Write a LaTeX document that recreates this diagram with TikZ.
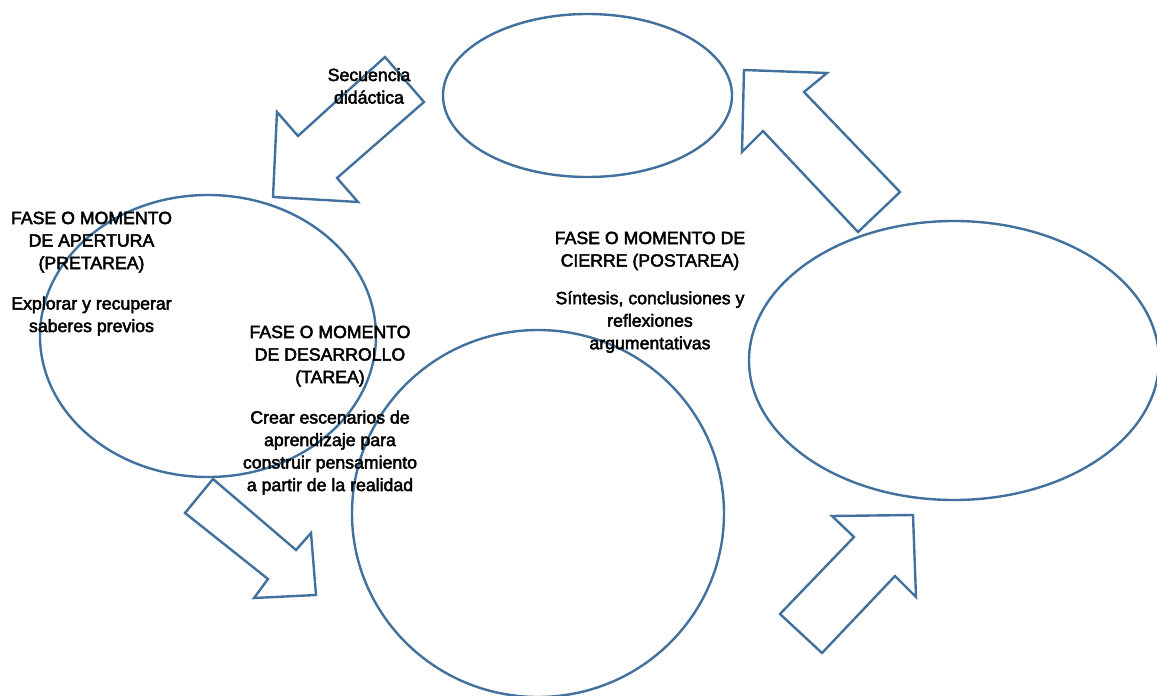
\documentclass[tikz,border=0pt]{standalone}
\usepackage{fontspec}
\setmainfont{Liberation Sans}
\usetikzlibrary{shapes.geometric}
\definecolor{edgeblue}{RGB}{65,113,156}
\newcommand\heavytext[1]{\special{pdf:literal direct 2 Tr 0.45 w}#1\special{pdf:literal direct 0 Tr}}
\tikzset{
  phase/.style={ellipse, draw=edgeblue, line width=2.4pt, inner sep=0pt, outer sep=0pt},
  blockarrow/.style={draw=edgeblue, line width=2.4pt, line join=miter, fill=white},
  lbl/.style={font=\fontsize{17.7}{22.5}\selectfont, align=center, inner sep=0pt, anchor=north, text=black}
}
\begin{document}
\begin{tikzpicture}[x=1pt,y=-1pt]
\useasboundingbox (0,0) rectangle (1157,696);
\fill[white] (0,0) rectangle (1157,696);
% ellipses
\node[phase, minimum width=289pt, minimum height=163pt] (top) at (587.5,95.5) {};
\node[phase, minimum width=336pt, minimum height=282pt] (apertura) at (208,336) {};
\node[phase, minimum width=372pt, minimum height=367pt] (desarrollo) at (538,513.5) {};
\node[phase, minimum width=410pt, minimum height=279pt] (cierre) at (954,360.5) {};
% block arrows
\draw[blockarrow] (385,57) -- (424,102) -- (337,178) -- (358,202) -- (273,197) -- (277,112) -- (298,136) -- cycle;
\draw[blockarrow] (744,70) -- (827,73) -- (804,92) -- (900,192) -- (858,232) -- (763,131) -- (742,152) -- cycle;
\draw[blockarrow] (213,479) -- (185,513) -- (268,579) -- (254,598) -- (316,595) -- (311,533) -- (296,550) -- cycle;
\draw[blockarrow] (913,515) -- (832,516) -- (854,537) -- (780,614) -- (822,653) -- (895,576) -- (916,597) -- cycle;
% texts
\node[lbl] (seq) at (369,68) {\heavytext{Secuencia\\did\'actica}};
\node[lbl] (apT) at (91.5,211.5) {\heavytext{FASE O MOMENTO\\DE APERTURA\\(PRETAREA)}};
\node[lbl] (apD) at (91.5,296.5) {\heavytext{Explorar y recuperar\\saberes previos}};
\node[lbl] (deT) at (330,325.5) {\heavytext{FASE O MOMENTO\\DE DESARROLLO\\(TAREA)}};
\node[lbl] (deD) at (330,410.5) {\heavytext{Crear escenarios de\\aprendizaje para\\construir pensamiento\\a partir de la realidad}};
\node[lbl] (ciT) at (650,231.5) {\heavytext{FASE O MOMENTO DE\\CIERRE (POSTAREA)}};
\node[lbl] (ciD) at (650,291) {\heavytext{S\'intesis, conclusiones y\\reflexiones\\argumentativas}};
\end{tikzpicture}
\end{document}
